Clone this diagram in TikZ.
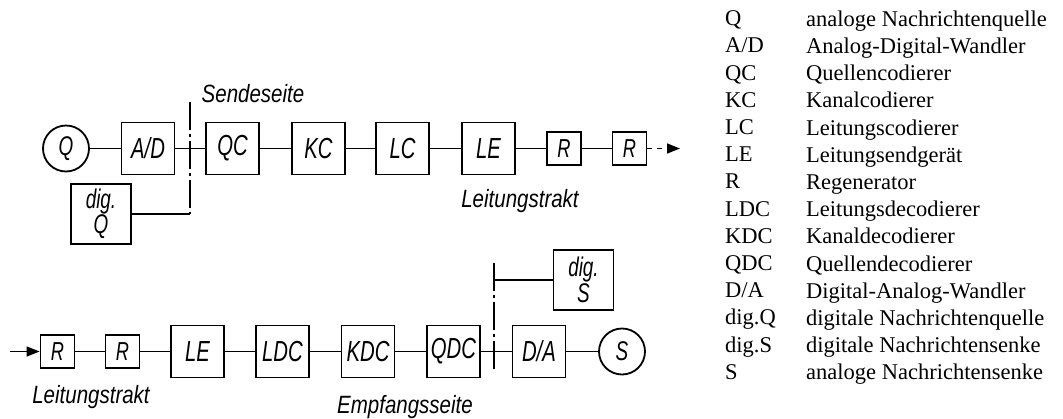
\documentclass[tikz,border=0pt]{standalone}
\usepackage{fontspec}
\setmainfont{Liberation Serif}
\newfontfamily\boxfont[FakeStretch=0.7]{Liberation Sans}
\newfontfamily\labelfont[FakeStretch=0.82]{Liberation Sans}
\usetikzlibrary{arrows.meta}
\tikzset{
    % Blocks of the transmission chain
    block/.style={
        rectangle,
        draw,
        line width=1.8pt,
        minimum width=53pt,
        minimum height=52pt,
        inner sep=0pt,
        font=\boxfont\itshape\fontsize{29}{29}\selectfont
    },
    regen block/.style={
        block,
        minimum width=34pt,
        minimum height=33pt,
        font=\boxfont\itshape\fontsize{26}{26}\selectfont
    },
    dig block/.style={
        block,
        minimum width=60pt,
        minimum height=60pt,
        align=center,
        font=\boxfont\itshape\fontsize{27}{24}\selectfont
    },
    terminal/.style={
        circle,
        draw,
        line width=1.8pt,
        minimum size=46pt,
        inner sep=0pt,
        font=\boxfont\itshape\fontsize{27}{27}\selectfont
    },
    side label/.style={
        anchor=base,
        inner sep=0pt,
        font=\labelfont\itshape\fontsize{25}{25}\selectfont
    },
    legend/.style={
        anchor=north west,
        inner sep=0pt,
        align=left,
        font=\fontsize{22.5}{27.2}\selectfont
    },
    line style/.style={
        line width=1.5pt
    },
    border style/.style={
        line width=1.5pt,
        dash pattern=on 28pt off 4pt on 3pt off 4pt
    },
    arrow style/.style={
        -{Triangle[length=13pt,width=10pt]},
        line width=1.5pt
    }
}

\begin{document}
\begin{tikzpicture}[x=1pt, y=-1pt]
        \useasboundingbox (0,0) rectangle (1063,418);

        % Transmitting side
        \node[terminal] (Q) at (66,148.5) {Q};
        \node[block] (AD) at (148,148.5) {A/D};
        \node[block] (QC) at (232.5,148.5) {QC};
        \node[block] (KC) at (318.5,148.5) {KC};
        \node[block] (LC) at (402.5,148.5) {LC};
        \node[block] (LE) at (488.5,148.5) {LE};
        \node[regen block] (R1) at (564,148.5) {R};
        \node[regen block] (R2) at (629.5,148.5) {R};
        \node[dig block] (digQ) at (101,214) {dig.\\Q};
        \coordinate (send top) at (190,102);
        \coordinate (line out) at (680,148.5);

        \draw[line style] (Q) -- (AD) -- (QC) -- (KC) -- (LC) -- (LE) -- (R1) -- (R2);
        \draw[arrow style, dash pattern=on 5pt off 5pt] (R2) -- (line out);
        \draw[line style] (digQ.east) -- (digQ.east -| send top);
        \draw[border style] (send top) -- (digQ.east -| send top);

        \node[side label] (sendeseite) at (253,102) {Sendeseite};
        \node[side label] (trakt top) at (520,207) {Leitungstrakt};

        % Receiving side
        \coordinate (line in) at (10,351.5);
        \node[regen block] (R3) at (57.5,351.5) {R};
        \node[regen block] (R4) at (122.5,351.5) {R};
        \node[block] (LE2) at (197.5,351.5) {LE};
        \node[block] (LDC) at (282.5,351.5) {LDC};
        \node[block] (KDC) at (368,351.5) {KDC};
        \node[block] (QDC) at (453.5,351.5) {QDC};
        \node[block] (DA) at (539,351.5) {D/A};
        \node[terminal] (S) at (622,351.5) {S};
        \node[dig block] (digS) at (583.5,280) {dig.\\S};
        \coordinate (recv top) at (494,263);
        \coordinate (recv bottom) at (494,370);

        \draw[arrow style] (line in) -- (R3);
        \draw[line style] (R3) -- (R4) -- (LE2) -- (LDC) -- (KDC) -- (QDC) -- (DA) -- (S);
        \draw[line style] (digS.west) -- (digS.west -| recv top);
        \draw[border style] (recv top) -- (recv bottom);

        \node[side label] (trakt bottom) at (91,403) {Leitungstrakt};
        \node[side label] (empfangsseite) at (405,413) {Empfangsseite};

        % Legend
        \node[legend] (abbrevs) at (725,10.5) {
            Q\\ A/D\\ QC\\ KC\\ LC\\ LE\\ R\\ LDC\\ KDC\\ QDC\\ D/A\\ dig.Q\\ dig.S\\ S
        };
        \node[legend] (meanings) at (806,10.5) {
            analoge Nachrichtenquelle\\
            Analog-Digital-Wandler\\
            Quellencodierer\\
            Kanalcodierer\\
            Leitungscodierer\\
            Leitungsendgerät\\
            Regenerator\\
            Leitungsdecodierer\\
            Kanaldecodierer\\
            Quellendecodierer\\
            Digital-Analog-Wandler\\
            digitale Nachrichtenquelle\\
            digitale Nachrichtensenke\\
            analoge Nachrichtensenke
        };
    \end{tikzpicture}
\end{document}
